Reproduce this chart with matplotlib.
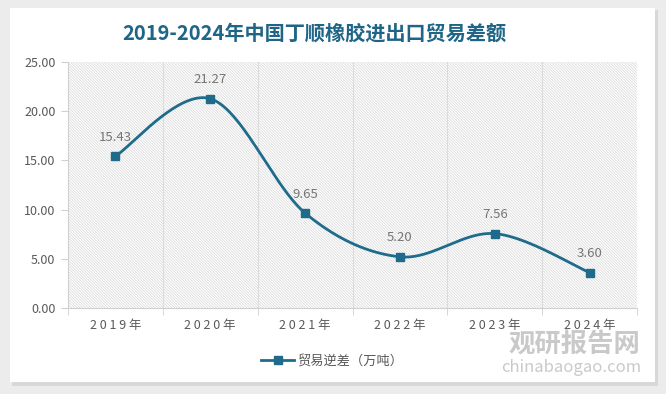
import matplotlib
matplotlib.use("Agg")
import matplotlib.pyplot as plt
import numpy as np
from matplotlib.patches import Rectangle

plt.rcParams['font.family'] = ['Noto Sans CJK SC', 'DejaVu Sans']
plt.rcParams['hatch.linewidth'] = 0.5
plt.rcParams['hatch.color'] = "#d6d6d6"

years = ["2019年", "2020年", "2021年", "2022年", "2023年", "2024年"]
values = [15.43, 21.27, 9.65, 5.20, 7.56, 3.60]
labels = ["15.43", "21.27", "9.65", "5.20", "7.56", "3.60"]
title = "2019-2024年中国丁顺橡胶进出口贸易差额"
series_name = "贸易逆差（万吨）"

line_color = "#1f6b8c"
text_color = "#595959"
label_color = "#767676"

fig = plt.figure(figsize=(6.66, 3.94), dpi=100)
fig.patch.set_facecolor("#ececec")
# card with shadow
fig.patches.append(Rectangle((12/666, 1-386/394), 646/666, 376/394, transform=fig.transFigure,
                             facecolor="#d8d8d8", edgecolor="none", zorder=-10))
fig.patches.append(Rectangle((10/666, 1-382/394), 645/666, 374/394, transform=fig.transFigure,
                             facecolor="white", edgecolor="none", zorder=-9))

ax = fig.add_axes([68/666, 1-308/394, (637-68)/666, (308-62)/394])
ax.set_zorder(2)
ax.set_facecolor("none")

x = np.arange(len(values))
ax.set_xlim(-0.5, len(values) - 0.5)
ax.set_ylim(0, 25)

# hatched background
ax.add_patch(Rectangle((0, 0), 1, 1, transform=ax.transAxes, facecolor="white",
                       edgecolor="#d6d6d6", hatch="\\" * 12, linewidth=0, zorder=0))

# vertical grid lines at category boundaries
for b in np.arange(0.5, len(values) - 0.5, 1):
    ax.axvline(b, color="#dcdcdc", lw=0.8, zorder=1)

# Catmull-Rom smooth curve
pts = np.column_stack([x, values]).astype(float)
P = np.vstack([pts[0], pts, pts[-1]])
curve = []
t = np.linspace(0, 1, 40)
for i in range(1, len(P) - 2):
    p0, p1, p2, p3 = P[i-1], P[i], P[i+1], P[i+2]
    c1 = p1 + (p2 - p0) / 6
    c2 = p2 - (p3 - p1) / 6
    seg = ((1-t)**3)[:, None]*p1 + (3*(1-t)**2*t)[:, None]*c1 + (3*(1-t)*t**2)[:, None]*c2 + (t**3)[:, None]*p2
    curve.append(seg)
curve = np.vstack(curve)
ax.plot(curve[:, 0], curve[:, 1], color=line_color, lw=2.0, zorder=3)
ax.plot(x, values, linestyle="none", marker="s", markersize=6, color=line_color, zorder=4)
# legend handle
ax.plot([], [], color=line_color, lw=2.0, marker="s", markersize=6, label=series_name)

for xi, v, lab in zip(x, values, labels):
    ax.annotate(lab, (xi, v), xytext=(0, 9), textcoords="offset points",
                ha="center", va="bottom", fontsize=9.5, color=label_color)

ax.set_yticks(np.arange(0, 26, 5))
ax.set_yticklabels([f"{v:.2f}" for v in np.arange(0, 26, 5)], fontsize=9, color=text_color)
ax.set_xticks(x)
ax.set_xticklabels([" ".join(list(y)) for y in years], fontsize=9, color=text_color)
ax.set_xticks(np.arange(-0.5, len(values), 1), minor=True)
ax.tick_params(axis="x", which="major", length=0, pad=8)
ax.tick_params(axis="x", which="minor", length=5, color="#d0d0d0")
ax.tick_params(axis="y", length=5, color="#d0d0d0", pad=4)
for s in ["top", "right"]:
    ax.spines[s].set_visible(False)
ax.spines["left"].set_color("#d0d0d0")
ax.spines["bottom"].set_color("#d0d0d0")

fig.text(314/666, 1-33/394, title, ha="center", va="center", fontsize=14.5, fontweight="bold", color="#1f6587")

fig.legend(loc="center", bbox_to_anchor=(332/666, 1-361/394), frameon=False, fontsize=9.5,
           labelcolor=text_color, handlelength=2.5, handletextpad=0.2)

# watermark
fig.text(574/666, 1-345/394, "观研报告网", ha="center", va="center", fontsize=19, fontweight="bold",
         color="#c4c4c4", alpha=0.9, zorder=10)
fig.text(571/666, 1-368/394, "chinabaogao.com", ha="center", va="center", fontsize=12,
         color="#c4c4c4", alpha=0.9, zorder=10)

fig.savefig("out.png", dpi=100, facecolor=fig.get_facecolor())
